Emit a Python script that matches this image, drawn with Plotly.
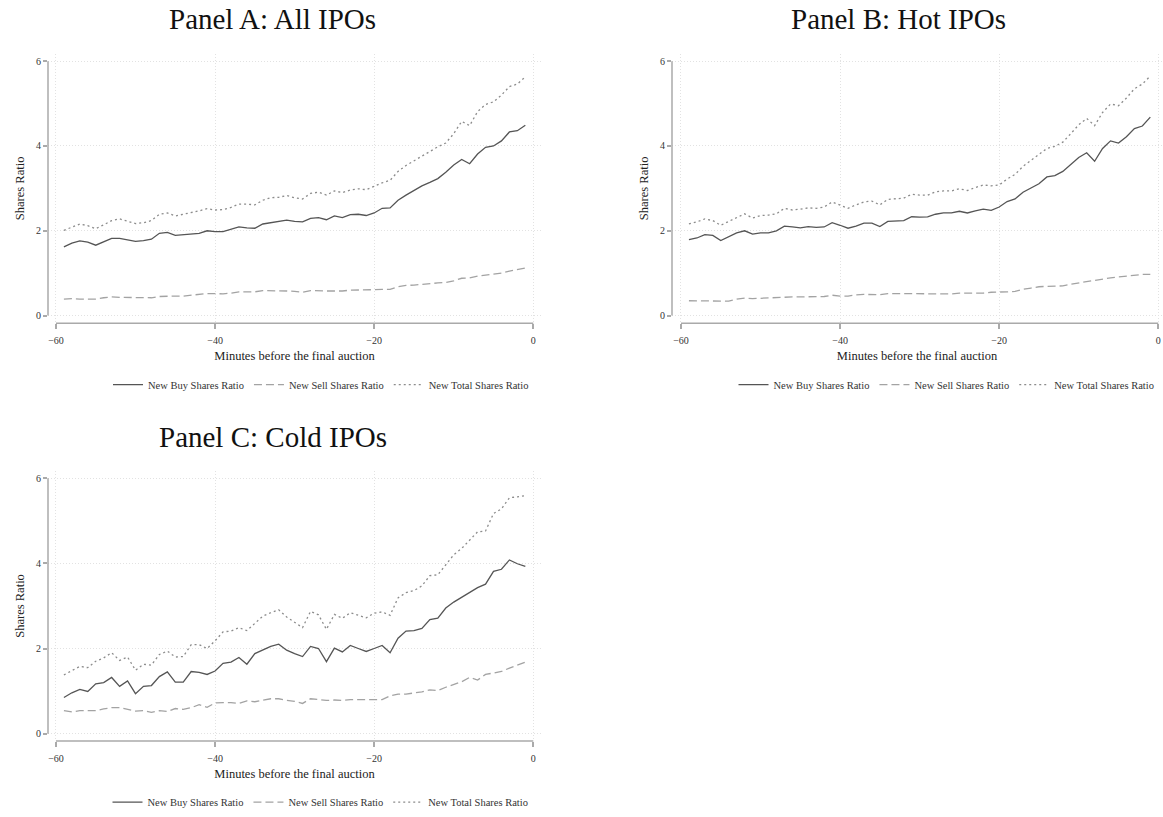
import plotly.graph_objects as go

minutes = list(range(-59, 0))

a_buy = [1.62,1.71,1.76,1.73,1.66,1.74,1.82,1.82,1.78,1.75,
         1.77,1.80,1.94,1.96,1.89,1.91,1.93,1.94,2.00,1.98,
         1.98,2.03,2.09,2.07,2.06,2.16,2.19,2.21,2.25,2.22,
         2.21,2.29,2.31,2.26,2.35,2.31,2.38,2.39,2.36,2.42,
         2.53,2.54,2.72,2.84,2.94,3.06,3.14,3.23,3.38,3.55,
         3.68,3.58,3.81,3.97,4.00,4.12,4.33,4.36,4.49]
a_sell = [0.39,0.40,0.39,0.39,0.39,0.42,0.44,0.43,0.43,0.43,
          0.43,0.42,0.45,0.46,0.46,0.46,0.48,0.50,0.52,0.52,
          0.51,0.53,0.56,0.56,0.56,0.59,0.59,0.58,0.58,0.57,
          0.55,0.59,0.58,0.58,0.58,0.58,0.60,0.60,0.60,0.61,
          0.62,0.62,0.68,0.71,0.72,0.74,0.75,0.77,0.78,0.82,
          0.88,0.89,0.93,0.95,0.97,1.00,1.05,1.09,1.12]
a_total = [2.01,2.08,2.16,2.12,2.05,2.14,2.24,2.28,2.22,2.17,
           2.19,2.24,2.39,2.42,2.35,2.39,2.42,2.47,2.52,2.49,
           2.50,2.55,2.63,2.63,2.61,2.72,2.78,2.79,2.83,2.78,
           2.75,2.88,2.91,2.84,2.94,2.90,2.96,2.99,2.97,3.05,
           3.13,3.19,3.40,3.54,3.65,3.76,3.87,3.98,4.07,4.29,
           4.58,4.48,4.81,4.98,5.04,5.20,5.40,5.46,5.63]

b_buy = [1.79,1.83,1.91,1.89,1.77,1.87,1.95,2.00,1.92,1.95,
         1.95,2.00,2.11,2.09,2.07,2.10,2.08,2.09,2.19,2.13,
         2.06,2.11,2.18,2.18,2.10,2.22,2.23,2.24,2.33,2.32,
         2.33,2.39,2.42,2.42,2.46,2.42,2.47,2.51,2.48,2.56,
         2.69,2.75,2.91,3.01,3.11,3.27,3.30,3.40,3.56,3.73,
         3.84,3.64,3.94,4.12,4.07,4.22,4.41,4.47,4.68]
b_sell = [0.35,0.35,0.35,0.35,0.34,0.34,0.39,0.41,0.40,0.41,
          0.41,0.42,0.43,0.44,0.44,0.44,0.44,0.45,0.48,0.46,
          0.46,0.49,0.50,0.50,0.49,0.52,0.52,0.51,0.52,0.52,
          0.51,0.51,0.51,0.51,0.53,0.53,0.53,0.53,0.55,0.55,
          0.56,0.57,0.62,0.65,0.68,0.69,0.69,0.70,0.74,0.77,
          0.81,0.84,0.87,0.89,0.91,0.93,0.96,0.97,0.97]
b_total = [2.16,2.21,2.28,2.24,2.13,2.22,2.32,2.40,2.30,2.36,
           2.37,2.40,2.53,2.49,2.51,2.54,2.53,2.56,2.68,2.61,
           2.53,2.61,2.68,2.70,2.61,2.74,2.76,2.77,2.86,2.84,
           2.84,2.92,2.94,2.94,2.99,2.95,3.02,3.08,3.06,3.08,
           3.22,3.33,3.52,3.66,3.80,3.94,3.99,4.09,4.29,4.50,
           4.65,4.48,4.79,4.99,4.95,5.13,5.35,5.46,5.65]

c_buy = [0.85,0.96,1.04,0.99,1.17,1.20,1.32,1.11,1.24,0.94,
         1.11,1.13,1.34,1.45,1.21,1.21,1.46,1.44,1.39,1.47,
         1.65,1.68,1.79,1.63,1.88,1.97,2.05,2.10,1.96,1.88,
         1.81,2.05,2.00,1.69,2.01,1.92,2.07,2.00,1.93,2.00,
         2.07,1.90,2.24,2.41,2.42,2.47,2.68,2.71,2.95,3.09,
         3.20,3.31,3.43,3.51,3.81,3.86,4.08,3.99,3.93]
c_sell = [0.54,0.51,0.54,0.54,0.54,0.58,0.61,0.61,0.57,0.53,
          0.54,0.50,0.54,0.52,0.59,0.57,0.61,0.68,0.62,0.72,
          0.73,0.73,0.71,0.77,0.75,0.78,0.82,0.82,0.78,0.76,
          0.71,0.82,0.80,0.78,0.79,0.78,0.80,0.80,0.81,0.81,
          0.80,0.89,0.93,0.93,0.95,0.98,1.03,1.01,1.09,1.16,
          1.22,1.32,1.26,1.39,1.42,1.46,1.54,1.61,1.68]
c_total = [1.38,1.48,1.58,1.55,1.70,1.78,1.90,1.72,1.80,1.49,
           1.63,1.61,1.86,1.94,1.80,1.81,2.09,2.09,2.00,2.18,
           2.39,2.41,2.49,2.42,2.60,2.76,2.84,2.91,2.74,2.62,
           2.49,2.87,2.79,2.45,2.80,2.71,2.84,2.78,2.72,2.83,
           2.86,2.78,3.19,3.31,3.36,3.47,3.71,3.73,3.96,4.20,
           4.35,4.55,4.74,4.76,5.17,5.28,5.54,5.56,5.59]

panel_titles = ["Panel A: All IPOs", "Panel B: Hot IPOs", "Panel C: Cold IPOs"]
series_names = ["New Buy Shares Ratio", "New Sell Shares Ratio", "New Total Shares Ratio"]
x_ticks = [-60, -40, -20, 0]
y_ticks = [0, 2, 4, 6]

W, H = 1163, 817
SERIF = "Liberation Serif, Times New Roman, serif"
styles = [dict(color="#555555", width=1.3, dash="solid"),
          dict(color="#a3a3a3", width=1.3, dash="8px,4px"),
          dict(color="#8c8c8c", width=1.3, dash="2px,3px")]

panels = [(a_buy, a_sell, a_total), (b_buy, b_sell, b_total), (c_buy, c_sell, c_total)]
geo = [
    dict(l=48, r=541, t=54, b=326, xr=[-61.0, 0.97], yr=[-0.18, 6.18]),
    dict(l=672, r=1162, t=54, b=326, xr=[-61.13, 0.47], yr=[-0.18, 6.18]),
    dict(l=48, r=541, t=475, b=747.3, xr=[-61.0, 0.97], yr=[-0.17, 6.17]),
]
title_pos = [(272, 19), (898, 19), (272.5, 441)]
legend_pos = [(321, 388), (946.5, 388), (320.5, 809)]

fig = go.Figure()
layout = dict(width=W, height=H, margin=dict(l=0, r=0, t=0, b=0),
              paper_bgcolor="white", plot_bgcolor="white",
              font=dict(family=SERIF, color="#333333"), showlegend=True)
shapes = []
annotations = []
for k, (data, g) in enumerate(zip(panels, geo)):
    sfx = "" if k == 0 else str(k + 1)
    lg = "legend" if k == 0 else "legend" + str(k + 1)
    for name, vals, st in zip(series_names, data, styles):
        fig.add_trace(go.Scatter(x=minutes, y=vals, mode="lines", name=name,
                                 line=st, xaxis="x" + sfx, yaxis="y" + sfx,
                                 legend=lg, hoverinfo="skip"))
    layout["xaxis" + sfx] = dict(
        domain=[g["l"] / W, g["r"] / W], anchor="y" + sfx, range=g["xr"],
        tickvals=x_ticks, ticks="outside", ticklen=5, tickcolor="#aaaaaa", tickwidth=1.5,
        ticklabelstandoff=3,
        showgrid=True, gridcolor="#e2e2e2", griddash="1px,2px", gridwidth=1,
        zeroline=False, showline=False,
        tickfont=dict(size=10, family=SERIF, color="#333333"),
        title=dict(text="Minutes before the final auction", standoff=6,
                   font=dict(size=12.5, family=SERIF, color="#222222")))
    layout["yaxis" + sfx] = dict(
        domain=[1 - g["b"] / H, 1 - g["t"] / H], anchor="x" + sfx, range=g["yr"],
        tickvals=y_ticks, ticks="outside", ticklen=4, tickcolor="#aaaaaa", tickwidth=1.5,
        showgrid=True, gridcolor="#e2e2e2", griddash="1px,2px", gridwidth=1,
        zeroline=False, showline=False,
        tickfont=dict(size=10, family=SERIF, color="#333333"),
        title=dict(text="Shares Ratio", standoff=8,
                   font=dict(size=12.5, family=SERIF, color="#222222")))
    shapes.append(dict(type="line", xref="x" + sfx, yref="y" + sfx + " domain",
                       x0=x_ticks[0], x1=x_ticks[-1], y0=0, y1=0,
                       line=dict(color="#aaaaaa", width=1.5)))
    shapes.append(dict(type="line", xref="x" + sfx + " domain", yref="y" + sfx,
                       x0=0, x1=0, y0=y_ticks[0], y1=y_ticks[-1],
                       line=dict(color="#aaaaaa", width=1.5)))
    tx, ty = title_pos[k]
    annotations.append(dict(text=panel_titles[k], xref="paper", yref="paper",
                            x=tx / W, y=1 - ty / H, xanchor="center", yanchor="middle",
                            showarrow=False, font=dict(size=29, family=SERIF, color="#111111")))
    lx, ly = legend_pos[k]
    layout[lg] = dict(orientation="h", x=lx / W, y=1 - ly / H, xanchor="center",
                      yanchor="middle", bgcolor="rgba(0,0,0,0)", itemwidth=30,
                      font=dict(size=10.5, family=SERIF, color="#333333"),
                      traceorder="normal")

layout["shapes"] = shapes
layout["annotations"] = annotations
fig.update_layout(**layout)
fig.write_html("out.html")
